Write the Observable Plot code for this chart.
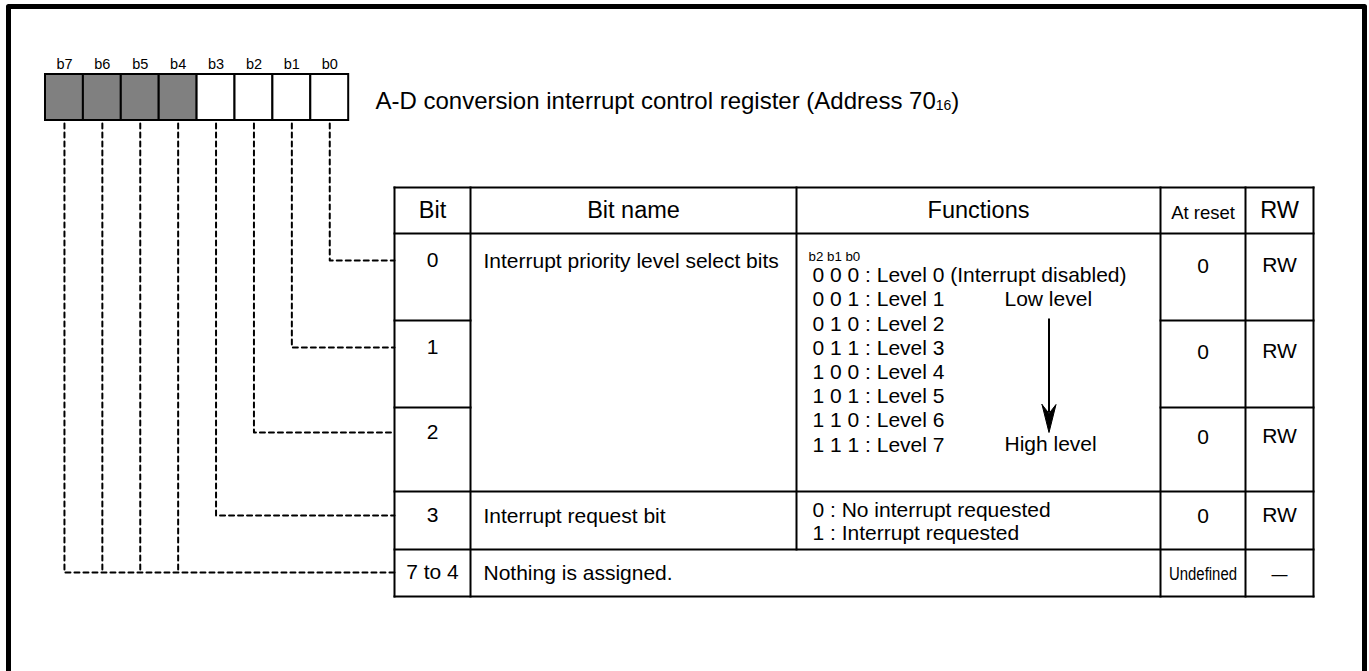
<!DOCTYPE html>
<html><head><meta charset="utf-8">
<script src="https://cdn.jsdelivr.net/npm/d3@7"></script>
<script src="https://cdn.jsdelivr.net/npm/@observablehq/plot@0.6"></script>
<style>
html,body{margin:0;padding:0;background:#fff;overflow:hidden}
</style></head><body><div id="chart"></div>
<script>
// ---- content (data) ----
const registerBits = ["b7","b6","b5","b4","b3","b2","b1","b0"];
const reserved = [true,true,true,true,false,false,false,false];
const bitToRow = [4,4,4,4,3,2,1,0];
const headers = ["Bit","Bit name","Functions","At reset","RW"];
const rowBits = ["0","1","2","3","7 to 4"];
const bitNames = ["Interrupt priority level select bits","Interrupt request bit","Nothing is assigned."];
const bitNameRows = [0,3,4];
const priorityKey = ["b2 b1 b0"];
const priorityFunctions = ["0 0 0 : Level 0 (Interrupt disabled)","0 0 1 : Level 1","0 1 0 : Level 2","0 1 1 : Level 3","1 0 0 : Level 4","1 0 1 : Level 5","1 1 0 : Level 6","1 1 1 : Level 7"];
const levelLabels = ["Low level","High level"];
const requestFunctions = ["0 : No interrupt requested","1 : Interrupt requested"];
const resetValues = ["0","0","0","0","Undefined"];
const rwValues = ["RW","RW","RW","RW","\u2014"];
const titleText = "A-D conversion interrupt control register (Address 70";
const titleSub = "16";
const titleEnd = ")";

// ---- layout ----
const W = 1369, H = 671;
const regX0 = 45, regW = 37.9, regY0 = 74, regY1 = 120, regLabelY = 64;
const colX = [394, 470, 796, 1160, 1245, 1313];
const rowY = [187, 233, 320, 407, 491, 549, 596];
const anchorY = [260, 347, 432, 515, 572];
const rightY = [266, 352, 437, 516, 574];
const FS = 21;

const bitCx = i => regX0 + (i + 0.5) * regW;

// leader lines
const leaders = [];
registerBits.forEach((b, i) => {
  const cx = bitCx(i), ry = anchorY[bitToRow[i]];
  leaders.push({bit: b, x: cx, y: regY1 + 3});
  leaders.push({bit: b, x: cx, y: ry});
  if (!(bitToRow[i] === 4 && i > 0)) leaders.push({bit: b, x: colX[0], y: ry});
});

// table grid segments
const segs = [];
[0, 1, 4, 5, 6].forEach(r => segs.push({x1: colX[0], x2: colX[5], y1: rowY[r], y2: rowY[r]}));
[2, 3].forEach(r => {
  segs.push({x1: colX[0], x2: colX[1], y1: rowY[r], y2: rowY[r]});
  segs.push({x1: colX[3], x2: colX[5], y1: rowY[r], y2: rowY[r]});
});
[0, 1, 3, 4, 5].forEach(c => segs.push({x1: colX[c], x2: colX[c], y1: rowY[0], y2: rowY[6]}));
segs.push({x1: colX[2], x2: colX[2], y1: rowY[0], y2: rowY[5]});

const frame = [[8, H + 5], [8, 6], [1364, 6], [1364, H + 5]];
const arrowX = 1048.5;
const arrowHead = [[arrowX - 7, 404], [arrowX, 413], [arrowX + 7, 404], [arrowX, 432], [arrowX - 7, 404]];

const chart = Plot.plot({
  width: W, height: H, margin: 0,
  x: {domain: [0, W], range: [0, W], axis: null},
  y: {domain: [0, H], range: [0, H], axis: null},
  color: {type: "identity"},
  style: {fontFamily: "'Liberation Sans', Arial, Helvetica, sans-serif", background: "white", color: "black"},
  marks: [
    Plot.line(frame, {stroke: "black", strokeWidth: 5}),
    Plot.line(leaders, {x: "x", y: "y", z: "bit", stroke: "black", strokeWidth: 2, strokeDasharray: "5,4"}),
    Plot.rect(registerBits, {
      x1: (d, i) => regX0 + i * regW, x2: (d, i) => regX0 + (i + 1) * regW,
      y1: () => regY0, y2: () => regY1,
      fill: (d, i) => reserved[i] ? "#808080" : "white", stroke: "black", strokeWidth: 2
    }),
    Plot.text(registerBits, {x: (d, i) => bitCx(i), y: () => regLabelY, text: d => d, fontSize: 14.5}),
    Plot.text([titleText], {x: () => 375, y: () => 101, text: d => d, textAnchor: "start", fontSize: 24}),
    Plot.link(segs, {x1: "x1", y1: "y1", x2: "x2", y2: "y2", stroke: "black", strokeWidth: 2, strokeLinecap: "square"}),
    Plot.text(headers, {x: (d, i) => (colX[i] + colX[i + 1]) / 2, y: (d, i) => i === 3 ? 213 : 210, text: d => d, fontSize: (d, i) => i === 3 ? 18.5 : 23.5}),
    Plot.text(rowBits, {x: () => (colX[0] + colX[1]) / 2, y: (d, i) => anchorY[i], text: d => d, fontSize: FS}),
    Plot.text(bitNames, {x: () => colX[1] + 13, y: (d, i) => anchorY[bitNameRows[i]] + 1, text: d => d, textAnchor: "start", fontSize: FS}),
    Plot.text(priorityKey, {x: () => colX[2] + 12, y: () => 256, text: d => d, textAnchor: "start", fontSize: 13.3}),
    Plot.text(priorityFunctions, {x: () => colX[2] + 16, y: (d, i) => 275 + i * 24.2, text: d => d, textAnchor: "start", fontSize: FS}),
    Plot.text(levelLabels, {x: () => 1004, y: (d, i) => i === 0 ? 299 : 444, text: d => d, textAnchor: "start", fontSize: FS}),
    Plot.link([levelLabels], {x1: () => arrowX, x2: () => arrowX, y1: () => 318, y2: () => 412, stroke: "black", strokeWidth: 2}),
    Plot.line(arrowHead, {fill: "black", stroke: "black", strokeWidth: 1}),
    Plot.text(requestFunctions, {x: () => colX[2] + 16, y: (d, i) => 510 + i * 23, text: d => d, textAnchor: "start", fontSize: FS}),
    Plot.text(resetValues, {x: () => (colX[3] + colX[4]) / 2, y: (d, i) => rightY[i], text: d => d, fontSize: (d, i) => i === 4 ? 18 : FS}),
    Plot.text(rwValues, {x: () => (colX[4] + colX[5]) / 2, y: (d, i) => rightY[i] - (i < 4 ? 1 : 0), text: d => d, fontSize: (d, i) => i === 4 ? 16 : FS})
  ]
});

// subscript for the address, condensed "Undefined"
const ns = "http://www.w3.org/2000/svg";
for (const t of chart.querySelectorAll("text")) {
  if (t.textContent === titleText) {
    const s = document.createElementNS(ns, "tspan");
    s.setAttribute("font-size", "14");
    s.setAttribute("dy", "1");
    s.textContent = titleSub;
    const c = document.createElementNS(ns, "tspan");
    c.setAttribute("dy", "-1");
    c.textContent = titleEnd;
    t.appendChild(s); t.appendChild(c);
  } else if (t.textContent === resetValues[4]) {
    t.setAttribute("textLength", "68");
    t.setAttribute("lengthAdjust", "spacingAndGlyphs");
  }
}
document.getElementById("chart").appendChild(chart);
</script></body></html>
